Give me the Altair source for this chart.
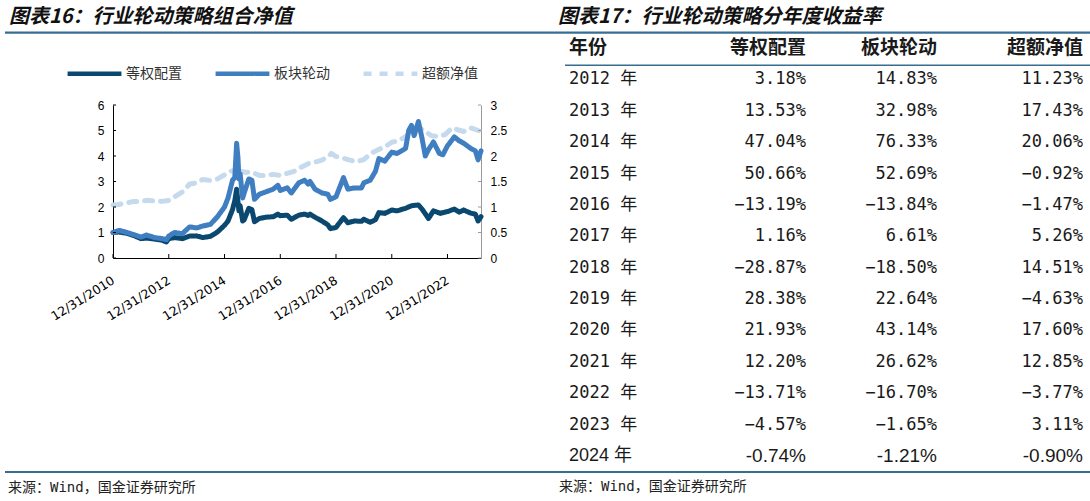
import altair as alt
import pandas as pd

# ---------------- chart data ----------------
eq_dates = ["2010-12-31", "2011-03-15", "2011-06-30", "2011-09-30", "2011-12-31", "2012-03-15",
            "2012-06-30", "2012-09-30", "2012-12-01", "2012-12-31", "2013-03-15", "2013-06-28",
            "2013-09-30", "2013-12-31", "2014-03-20", "2014-06-30", "2014-09-30", "2014-12-31",
            "2015-02-15", "2015-04-15", "2015-05-15", "2015-06-08", "2015-07-08", "2015-07-24",
            "2015-08-26", "2015-09-15", "2015-11-15", "2015-12-25", "2016-01-28", "2016-03-31",
            "2016-06-30", "2016-09-30", "2016-11-30", "2016-12-31", "2017-03-31", "2017-05-25",
            "2017-08-31", "2017-11-15", "2017-12-31", "2018-01-25", "2018-03-31", "2018-06-30",
            "2018-09-15", "2018-10-19", "2018-12-31", "2019-04-08", "2019-06-05", "2019-08-30",
            "2019-11-30", "2019-12-31", "2020-03-23", "2020-05-31", "2020-07-15", "2020-09-30",
            "2020-12-31", "2021-03-10", "2021-06-30", "2021-09-15", "2021-12-15", "2022-01-31",
            "2022-04-26", "2022-06-30", "2022-09-30", "2022-12-31", "2023-03-31", "2023-05-31",
            "2023-07-31", "2023-10-31", "2023-12-31", "2024-02-05", "2024-03-14"]
eq_vals = [1.00, 1.02, 0.97, 0.88, 0.76, 0.78,
           0.74, 0.70, 0.63, 0.76, 0.80, 0.76,
           0.86, 0.86, 0.80, 0.85, 1.02, 1.28,
           1.45, 1.90, 2.25, 2.70, 1.85, 2.05,
           1.45, 1.50, 1.95, 1.90, 1.42, 1.55,
           1.60, 1.62, 1.72, 1.66, 1.68, 1.52,
           1.68, 1.72, 1.67, 1.72, 1.60, 1.45,
           1.30, 1.15, 1.20, 1.58, 1.38, 1.45,
           1.44, 1.52, 1.40, 1.50, 1.78, 1.75,
           1.88, 1.85, 1.95, 2.05, 2.08, 1.92,
           1.55, 1.85, 1.75, 1.82, 1.92, 1.80,
           1.88, 1.76, 1.72, 1.45, 1.62]

sec_dates = ["2010-12-31", "2011-03-20", "2011-06-30", "2011-09-30", "2011-12-31", "2012-03-15",
             "2012-06-30", "2012-09-30", "2012-12-01", "2012-12-31", "2013-03-15", "2013-06-25",
             "2013-09-30", "2013-12-31", "2014-03-20", "2014-06-30", "2014-09-30", "2014-12-31",
             "2015-02-15", "2015-04-15", "2015-05-15", "2015-06-08", "2015-06-25", "2015-07-08",
             "2015-07-24", "2015-08-26", "2015-09-15", "2015-11-15", "2015-12-25", "2016-01-28",
             "2016-03-31", "2016-06-30", "2016-09-30", "2016-11-30", "2016-12-31", "2017-03-31",
             "2017-05-25", "2017-08-31", "2017-11-15", "2017-12-31", "2018-01-25", "2018-03-31",
             "2018-06-30", "2018-09-15", "2018-10-19", "2018-12-31", "2019-04-08", "2019-06-05",
             "2019-08-30", "2019-11-30", "2019-12-31", "2020-03-23", "2020-05-31", "2020-07-15",
             "2020-09-30", "2020-12-31", "2021-03-10", "2021-06-30", "2021-08-10", "2021-09-15",
             "2021-10-20", "2021-12-15", "2022-01-31", "2022-03-15", "2022-04-26", "2022-06-30",
             "2022-09-15", "2022-10-31", "2022-12-31", "2023-03-31", "2023-05-31", "2023-07-31",
             "2023-10-31", "2023-12-31", "2024-02-05", "2024-03-14"]
sec_vals = [1.00, 1.08, 1.00, 0.92, 0.82, 0.90,
            0.80, 0.76, 0.72, 0.86, 1.00, 0.95,
            1.22, 1.18, 1.25, 1.32, 1.62, 2.00,
            2.35, 3.05, 3.15, 4.50, 3.95, 3.10,
            3.30, 2.35, 2.55, 3.10, 3.05, 2.30,
            2.50, 2.60, 2.70, 2.85, 2.65, 2.75,
            2.55, 2.95, 3.05, 2.90, 3.00, 2.70,
            2.55, 2.50, 2.30, 2.40, 3.15, 2.70,
            2.75, 2.75, 2.95, 3.05, 3.40, 3.90,
            3.80, 4.15, 4.10, 4.30, 5.00, 5.20,
            4.80, 5.35, 4.70, 4.00, 4.25, 4.55,
            4.10, 4.05, 4.40, 4.75, 4.60, 4.50,
            4.30, 4.20, 3.85, 4.20]

exc_dates = ["2010-12-31", "2011-03-15", "2011-06-30", "2011-09-30", "2011-12-31", "2012-03-15",
             "2012-06-30", "2012-09-30", "2012-12-31", "2013-03-15", "2013-06-30", "2013-09-30",
             "2013-12-31", "2014-03-20", "2014-06-30", "2014-09-30", "2014-12-31", "2015-03-15",
             "2015-05-15", "2015-06-20", "2015-07-20", "2015-09-30", "2015-12-31", "2016-03-31",
             "2016-06-30", "2016-09-30", "2016-12-31", "2017-03-31", "2017-06-30", "2017-09-30",
             "2017-12-31", "2018-03-31", "2018-06-30", "2018-09-30", "2018-10-31", "2018-12-31",
             "2019-03-31", "2019-06-30", "2019-09-30", "2019-12-31", "2020-03-31", "2020-06-30",
             "2020-09-30", "2020-12-31", "2021-03-31", "2021-06-30", "2021-09-15", "2021-12-15",
             "2022-02-28", "2022-05-31", "2022-08-31", "2022-11-30", "2023-02-28", "2023-04-30",
             "2023-07-31", "2023-10-31", "2023-12-31", "2024-02-05", "2024-03-14"]
exc_vals = [1.04, 1.05, 1.08, 1.11, 1.11, 1.13,
            1.12, 1.11, 1.13, 1.20, 1.30, 1.45,
            1.47, 1.54, 1.52, 1.55, 1.63, 1.70,
            1.72, 1.82, 1.70, 1.68, 1.68, 1.62,
            1.62, 1.64, 1.62, 1.66, 1.70, 1.78,
            1.85, 1.88, 1.92, 2.00, 2.05, 1.99,
            1.96, 1.92, 1.89, 1.93, 2.05, 2.12,
            2.18, 2.27, 2.30, 2.38, 2.50, 2.56,
            2.50, 2.40, 2.38, 2.42, 2.55, 2.52,
            2.48, 2.55, 2.52, 2.50, 2.48]

series_names = ["等权配置", "板块轮动", "超额净值"]
series_colors = ["#0b4870", "#3f7ec1", "#c6daee"]
series_dash = [[1, 0], [1, 0], [8, 8]]

x_tick_years = [2010, 2012, 2014, 2016, 2018, 2020, 2022]
left_ticks = [0, 1, 2, 3, 4, 5, 6]
right_ticks = [0, 0.5, 1, 1.5, 2, 2.5, 3]

# ---------------- table data ----------------
table_years = [2012, 2013, 2014, 2015, 2016, 2017, 2018, 2019, 2020, 2021, 2022, 2023, 2024]
eq_ret = [3.18, 13.53, 47.04, 50.66, -13.19, 1.16, -28.87, 28.38, 21.93, 12.20, -13.71, -4.57, -0.74]
sec_ret = [14.83, 32.98, 76.33, 52.69, -13.84, 6.61, -18.50, 22.64, 43.14, 26.62, -16.70, -1.65, -1.21]
exc_ret = [11.23, 17.43, 20.06, -0.92, -1.47, 5.26, 14.51, -4.63, 17.60, 12.85, -3.77, 3.11, -0.90]
header_labels = ["年份", "等权配置", "板块轮动", "超额净值"]

title_left = "图表16：行业轮动策略组合净值"
title_right = "图表17：行业轮动策略分年度收益率"
source_text = "来源：Wind，国金证券研究所"

LINE_BLUE = "#386d92"
CJK = "Noto Sans CJK SC"
MONO = "DejaVu Sans Mono, " + CJK

# both panels share the same plot origin row (page y = 105)
W, H = 368, 153

def frame(dates, vals, name):
    return pd.DataFrame({"date": dates, "value": vals, "series": name})

eq_df = frame(eq_dates, eq_vals, series_names[0])
sec_df = frame(sec_dates, sec_vals, series_names[1])
exc_df = frame(exc_dates, exc_vals, series_names[2])

xscale = alt.Scale(type="utc", domain=[alt.DateTime(year=2010, month=12, date=31, utc=True),
                                       alt.DateTime(year=2024, month=3, date=14, utc=True)])
x_tick_values = [alt.DateTime(year=y, month=12, date=31, utc=True) for y in x_tick_years]
left_scale = alt.Scale(domain=[0, 6], nice=False, zero=True)
right_scale = alt.Scale(domain=[0, 3], nice=False, zero=True)

x_axis = alt.Axis(values=x_tick_values, format="%m/%d/%Y", labelAngle=-32,
                  labelAlign="right", labelBaseline="middle", labelPadding=21,
                  ticks=False, grid=False, domainColor="#000", domainWidth=1,
                  labelFont="DejaVu Sans", labelFontSize=12.5, labelColor="#000",
                  labelOverlap=False, labelFlush=False, title=None)
x_enc = alt.X("date:T", scale=xscale, title=None, axis=x_axis)

left_axis = alt.Axis(values=left_ticks, orient="left", ticks=False, grid=False,
                     domainColor="#000", domainWidth=1, labelPadding=9, labelOverlap=False,
                     labelFont="Liberation Sans", labelFontSize=12, labelColor="#000", title=None)
right_axis = alt.Axis(values=right_ticks, orient="right", ticks=False, grid=False, format="~g",
                      domainColor="#9a9a9a", domainWidth=1, labelPadding=9, labelOverlap=False,
                      labelFont="Liberation Sans", labelFontSize=12, labelColor="#000", title=None)

legend = alt.Legend(title=None, orient="none", legendX=-48, legendY=-61, direction="horizontal",
                    symbolType="stroke", symbolSize=2900, symbolStrokeWidth=4.5,
                    labelFont=CJK, labelFontSize=14, labelColor="#333", labelOffset=2,
                    columnPadding=24, padding=0)
color_enc = alt.Color("series:N", scale=alt.Scale(domain=series_names, range=series_colors), legend=legend)
dash_enc = alt.StrokeDash("series:N", scale=alt.Scale(domain=series_names, range=series_dash), legend=legend)

def line(df):
    return alt.Chart(df).mark_line(strokeWidth=5, strokeCap="round", strokeJoin="round")

y_left = alt.Y("value:Q", scale=left_scale, title=None, axis=left_axis)
y_right = alt.Y("value:Q", scale=right_scale, title=None, axis=right_axis)

exc_line = line(exc_df).encode(x=x_enc, y=y_right, color=color_enc, strokeDash=dash_enc)
right_tick_marks = alt.Chart(pd.DataFrame({"value": right_ticks})).mark_rule(
    color="#9a9a9a", strokeWidth=1).encode(y=y_right, x=alt.value(W), x2=alt.value(W - 3))
right_group = alt.layer(exc_line, right_tick_marks)

eq_line = line(eq_df).encode(x=x_enc, y=y_left, color=color_enc, strokeDash=dash_enc)
sec_line = line(sec_df).encode(x=x_enc, y=y_left, color=color_enc, strokeDash=dash_enc)
left_tick_marks = alt.Chart(pd.DataFrame({"value": left_ticks})).mark_rule(
    color="#000", strokeWidth=1).encode(y=y_left, x=alt.value(0), x2=alt.value(3))
left_group = alt.layer(eq_line, sec_line, left_tick_marks)

x_tick_marks = alt.Chart(pd.DataFrame({"date": [f"{y}-12-31" for y in x_tick_years]})).mark_rule(
    color="#000", strokeWidth=1).encode(x=x_enc, y=alt.value(H), y2=alt.value(H - 4))

lines = alt.layer(right_group, left_group, x_tick_marks).resolve_scale(y="independent")

def text_at(txt, x, y, size, font=CJK, weight="normal", style="normal", align="left", color="#111"):
    return alt.Chart(pd.DataFrame({"t": [txt]})).mark_text(
        align=align, baseline="middle", font=font, fontSize=size, fontWeight=weight,
        fontStyle=style, color=color).encode(text="t:N", x=alt.value(x), y=alt.value(y))

def bar_at(x, x2, y, y2, color=LINE_BLUE):
    return alt.Chart(pd.DataFrame({"k": [0]})).mark_rect(color=color).encode(
        x=alt.value(x), x2=alt.value(x2), y=alt.value(y), y2=alt.value(y2))

left_panel = alt.layer(
    lines,
    bar_at(-108, -107, -105, -104, color="#ffffff"),   # invisible anchor for the page top
    text_at(title_left, -104, -88.5, 20, weight="bold", style="italic"),
    bar_at(-108, 432, -73.5, -71.2),
    bar_at(-108, 432, 366, 368),
    text_at(source_text, -105, 383, 14, font=MONO, color="#222"),
).properties(width=W, height=H)

# ---------------- right panel (table) ----------------
TW = 525
row_labels = [f"{y} 年" for y in table_years]
row_domain = [header_labels[0]] + row_labels
# header row at page y 48, last row at page y 456 (relative to the shared origin row at 105)
row_scale = alt.Scale(type="point", domain=row_domain, padding=0, range=[-57, 351])

def fmt(v, minus):
    s = f"{v:.2f}%"
    return s.replace("-", minus)

body = pd.DataFrame({
    "row": row_labels[:-1],
    "eq": [fmt(v, "−") for v in eq_ret[:-1]],
    "sec": [fmt(v, "−") for v in sec_ret[:-1]],
    "exc": [fmt(v, "−") for v in exc_ret[:-1]],
})
last = pd.DataFrame({
    "row": row_labels[-1:],
    "eq": [fmt(v, "-") for v in eq_ret[-1:]],
    "sec": [fmt(v, "-") for v in sec_ret[-1:]],
    "exc": [fmt(v, "-") for v in exc_ret[-1:]],
})
head = pd.DataFrame({"row": [header_labels[0]], "c1": [header_labels[0]], "c2": [header_labels[1]],
                     "c3": [header_labels[2]], "c4": [header_labels[3]]})

col_x = {"c1": 4, "c2": 241, "c3": 372, "c4": 518}

def col(df, field, x, align, font, size, weight="normal"):
    return alt.Chart(df).mark_text(align=align, baseline="middle", font=font, fontSize=size,
                                   fontWeight=weight, color="#1a1a1a").encode(
        x=alt.value(x), y=alt.Y("row:N", scale=row_scale, axis=None), text=f"{field}:N")

table_layers = [
    col(head, "c1", col_x["c1"], "left", CJK, 19, "bold"),
    col(head, "c2", col_x["c2"], "right", CJK, 19, "bold"),
    col(head, "c3", col_x["c3"], "right", CJK, 19, "bold"),
    col(head, "c4", col_x["c4"], "right", CJK, 19, "bold"),
    col(body, "row", col_x["c1"], "left", MONO, 17),
    col(body, "eq", col_x["c2"], "right", MONO, 17),
    col(body, "sec", col_x["c3"], "right", MONO, 17),
    col(body, "exc", col_x["c4"], "right", MONO, 17),
    col(last, "row", col_x["c1"], "left", "Liberation Sans, " + CJK, 18),
    col(last, "eq", col_x["c2"], "right", "Liberation Sans", 19),
    col(last, "sec", col_x["c3"], "right", "Liberation Sans", 19),
    col(last, "exc", col_x["c4"], "right", "Liberation Sans", 19),
]

right_panel = alt.layer(
    *table_layers,
    text_at(title_right, -7, -88.5, 20, weight="bold", style="italic"),
    bar_at(-20, TW, -73.5, -71.2),
    bar_at(0, TW, -40.5, -39),
    bar_at(-20, TW, 366, 368),
    text_at(source_text, -6, 382, 14, font=MONO, color="#222"),
).properties(width=TW, height=H)

chart = alt.hconcat(left_panel, right_panel, spacing=0).configure_view(stroke=None).properties(
    padding={"left": 5, "top": 0, "right": 0, "bottom": 0}, background="white")

chart.save("out.html", embed_options={"renderer": "svg", "actions": False})
